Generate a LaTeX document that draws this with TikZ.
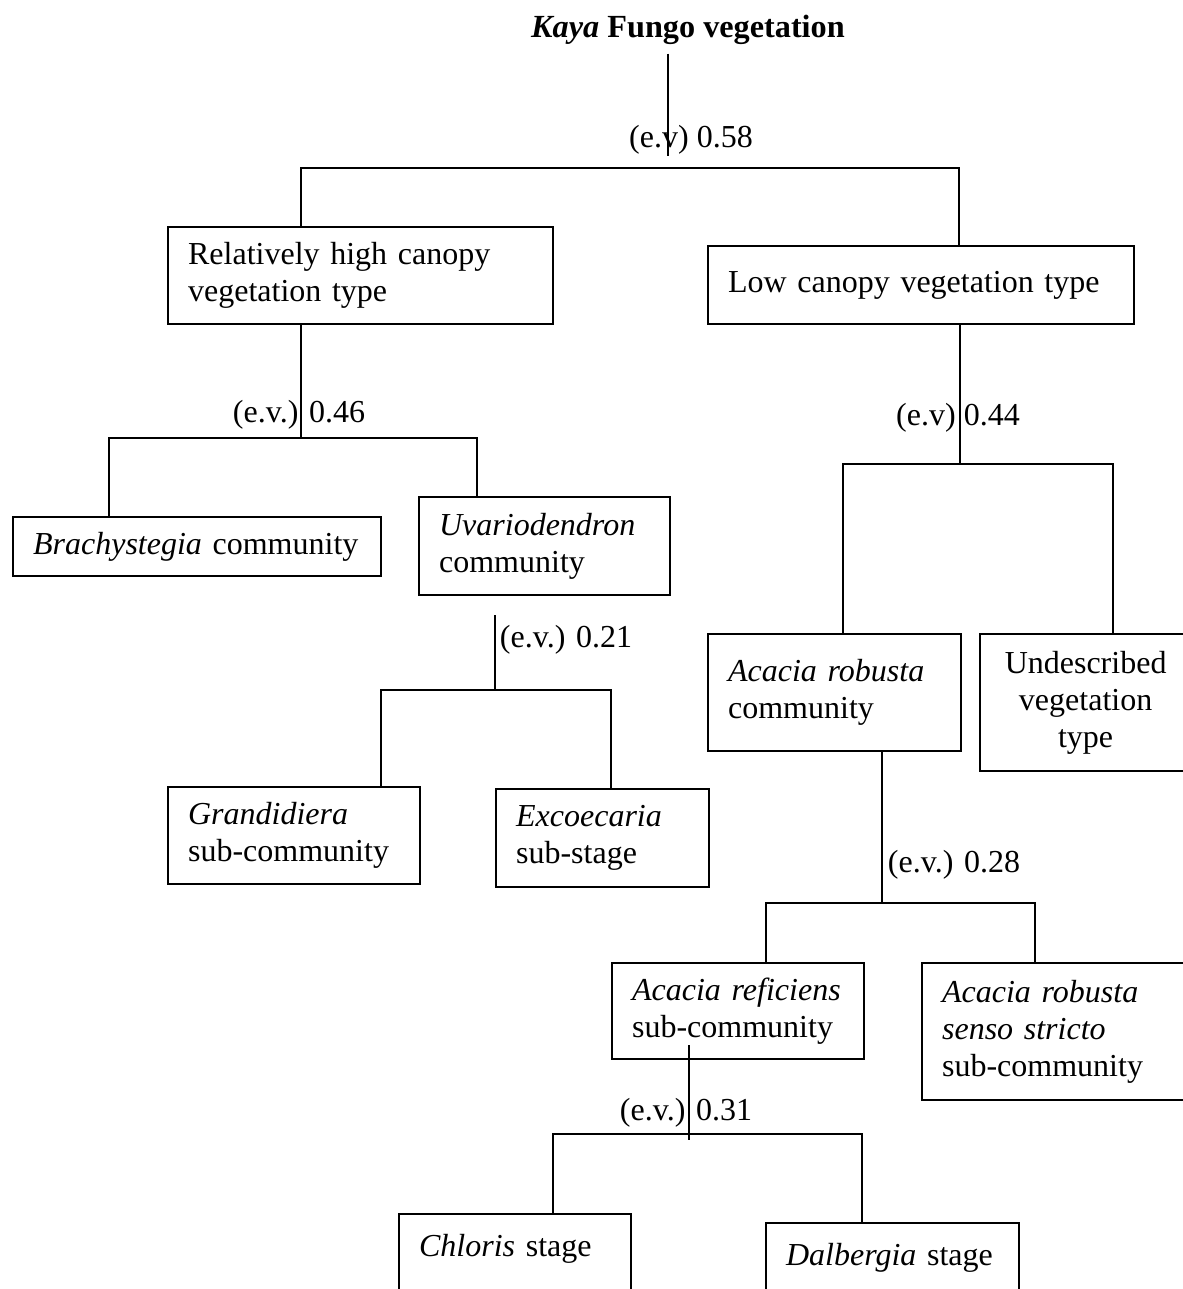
\documentclass[tikz,border=0pt]{standalone}
\usepackage{fontspec}
\setmainfont{Liberation Serif}
\begin{document}
\begin{tikzpicture}[x=0.4pt,y=-0.4pt,
    font=\fontsize{12.8}{14.8}\selectfont,
    vbox/.style={draw,line width=0.9pt,anchor=north west,align=left,inner xsep=8pt,inner ysep=4pt},
    cutbox/.style={vbox,text height=13pt,text depth=14pt},
    ev/.style={inner sep=0pt},
    link/.style={line width=0.6pt}]
    \useasboundingbox (0,0) rectangle (1183,1289);

    \node[font=\fontsize{12.9}{15}\selectfont\bfseries] (kaya) at (688,30) {\textit{Kaya} Fungo vegetation};

    \node[vbox,text width=138pt,minimum height=38.8pt] (high) at (167,226) {Relatively high canopy\\vegetation type};
    \node[vbox,text width=154.4pt,minimum height=31.2pt] (low) at (707,245) {Low canopy vegetation type};
    \node[vbox,text width=131.2pt,minimum height=23.6pt] (brachy) at (12,516) {\textit{Brachystegia}~community};
    \node[vbox,text width=84.4pt,minimum height=39.2pt] (uvario) at (418,496) {\textit{Uvariodendron}\\community};
    \node[vbox,text width=85.2pt,minimum height=46.8pt] (robusta) at (707,633) {\textit{Acacia robusta}\\community};
    \node[vbox,align=center,text width=68.4pt,minimum height=54.8pt] (undesc) at (979,633) {Undescribed\\vegetation\\type};
    \node[vbox,text width=84.8pt,minimum height=38.8pt] (grandi) at (167,786) {\textit{Grandidiera}\\sub-community};
    \node[vbox,text width=69.2pt,minimum height=39.2pt] (excoe) at (495,788) {\textit{Excoecaria}\\sub-stage};
    \node[vbox,text width=84.8pt,minimum height=38.4pt] (refic) at (611,962) {\textit{Acacia~reficiens}\\sub-community};
    \node[vbox,text width=95.6pt,minimum height=54.8pt] (senso) at (921,962) {\textit{Acacia robusta}\\\textit{senso stricto}\\sub-community};
    \node[cutbox,text width=76.8pt] (chloris) at (398,1213) {\textit{Chloris} stage};
    \node[cutbox,text width=85.2pt] (dalberg) at (765,1222) {\textit{Dalbergia} stage};

    \node[ev] (ev0) at (691,140) {(e.v) 0.58};
    \node[ev] (ev1) at (299,415) {(e.v.) 0.46};
    \node[ev] (ev2) at (958,418) {(e.v) 0.44};
    \node[ev] (ev3) at (566,640) {(e.v.) 0.21};
    \node[ev] (ev4) at (954,865) {(e.v.) 0.28};
    \node[ev] (ev5) at (686,1113) {(e.v.) 0.31};

    \coordinate (t0) at (668,156);
    \coordinate (b0l) at (301,168);
    \coordinate (b0r) at (959,168);
    \coordinate (b1) at (301,438);
    \coordinate (b1l) at (109,438);
    \coordinate (b1r) at (477,438);
    \coordinate (b2) at (960,464);
    \coordinate (b2l) at (843,464);
    \coordinate (b2r) at (1113,464);
    \coordinate (b3) at (495,690);
    \coordinate (b3l) at (381,690);
    \coordinate (b3r) at (611,690);
    \coordinate (b4) at (882,903);
    \coordinate (b4l) at (766,903);
    \coordinate (b4r) at (1035,903);
    \coordinate (b5) at (689,1140);
    \coordinate (b5l) at (553,1134);
    \coordinate (b5r) at (862,1134);

    \draw[link] (kaya.south -| t0) -- (t0);
    \draw[link] (high.north -| b0l) -- (b0l) -- (b0r) -- (low.north -| b0r);
    \draw[link] (high.south -| b1) -- (b1);
    \draw[link] (brachy.north -| b1l) -- (b1l) -- (b1r) -- (uvario.north -| b1r);
    \draw[link] (low.south -| b2) -- (b2);
    \draw[link] (robusta.north -| b2l) -- (b2l) -- (b2r) -- (undesc.north -| b2r);
    \draw[link,shorten <=7.6pt] (uvario.south -| b3) -- (b3);
    \draw[link] (grandi.north -| b3l) -- (b3l) -- (b3r) -- (excoe.north -| b3r);
    \draw[link] (robusta.south -| b4) -- (b4);
    \draw[link] (refic.north -| b4l) -- (b4l) -- (b4r) -- (senso.north -| b4r);
    \draw[link,shorten <=-6pt] (refic.south -| b5) -- (b5);
    \draw[link] (chloris.north -| b5l) -- (b5l) -- (b5r) -- (dalberg.north -| b5r);
\end{tikzpicture}
\end{document}
